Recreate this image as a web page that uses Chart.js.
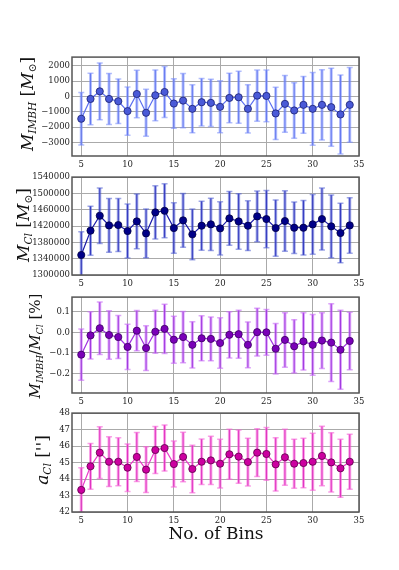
<!DOCTYPE html>
<html>
<head>
<meta charset="utf-8">
<script src="https://cdn.jsdelivr.net/npm/chart.js@4"></script>
<style>
  body { margin: 0; background: #fff; }
  #wrap { position: relative; width: 399px; height: 570px; }
  canvas { position: absolute; left: 0; }
  .ylab {
    position: absolute; white-space: nowrap; line-height: 1;
    transform: translate(-50%, -50%) rotate(-90deg);
    font-family: "DejaVu Serif", serif; color: #111;
  }
  .ylab i { font-style: italic; }
  .ylab sub { font-size: 62%; vertical-align: -0.35em; line-height: 0; }
  #xlab {
    position: absolute; left: 216px; top: 533px; transform: translate(-50%, -50%);
    font-family: "DejaVu Serif", serif; font-size: 17px; color: #111; white-space: nowrap;
  }
</style>
</head>
<body>
<div id="wrap">
  <canvas id="c1"></canvas>
  <canvas id="c2"></canvas>
  <canvas id="c3"></canvas>
  <canvas id="c4"></canvas>
  <div class="ylab" style="left:27px;top:104px;font-size:17px"><i>M</i><sub><i>IMBH</i></sub> [<i>M</i><sub>&#8857;</sub>]</div>
  <div class="ylab" style="left:23px;top:225px;font-size:17px"><i>M</i><sub><i>Cl</i></sub> [<i>M</i><sub>&#8857;</sub>]</div>
  <div class="ylab" style="left:35px;top:346px;font-size:15px"><i>M</i><sub><i>IMBH</i></sub>/<i>M</i><sub><i>Cl</i></sub> [%]</div>
  <div class="ylab" style="left:42px;top:460px;font-size:17px"><i>a</i><sub><i>Cl</i></sub> ['']</div>
  <div id="xlab">No. of Bins</div>
</div>
<script>
const bins = [5,6,7,8,9,10,11,12,13,14,15,16,17,18,19,20,21,22,23,24,25,26,27,28,29,30,31,32,33,34];
const xTicks = [5,10,15,20,25,30,35];

const imbhMass = [-1450,-155,340,-155,-306,-952,168,-1060,82,298,-457,-263,-802,-370,-413,-672,-90,-47,-802,60,39,-1103,-478,-909,-543,-802,-543,-694,-1168,-543];
const imbhErr  = [1720,1680,1860,1670,1460,1580,1550,1530,1660,1660,1620,1770,1570,1550,1540,1700,1620,1700,1580,1670,1690,1710,1860,1820,1860,2380,2300,2550,2580,2440];
const imbhTicks = [-3000,-2000,-1000,0,1000,2000];

const clMass = [1349000,1408600,1445300,1421600,1422400,1407800,1431400,1402000,1453500,1457500,1415100,1433900,1399600,1420800,1424100,1414300,1438800,1431400,1420800,1443700,1437100,1415100,1432300,1415900,1415900,1424100,1437100,1419200,1402900,1421600];
const clErr  = [57000,60000,68000,66000,65000,66000,67000,60000,65000,66000,62000,66000,62000,60000,64000,65000,66000,68000,61000,62000,70000,69000,74000,63000,67000,73000,76000,77000,73000,68000];
const clTicks = [1300000,1340000,1380000,1420000,1460000,1500000,1540000];

const ratio = [-0.109,-0.015,0.020,-0.013,-0.023,-0.071,0.008,-0.077,0.003,0.017,-0.036,-0.023,-0.061,-0.029,-0.032,-0.052,-0.012,-0.009,-0.061,0.001,0.000,-0.080,-0.037,-0.068,-0.044,-0.061,-0.040,-0.050,-0.085,-0.042];
const ratioErr = [0.125,0.115,0.128,0.118,0.105,0.110,0.098,0.109,0.105,0.120,0.115,0.125,0.113,0.110,0.107,0.123,0.113,0.117,0.112,0.117,0.112,0.123,0.133,0.130,0.140,0.148,0.136,0.190,0.193,0.140];
const ratioTicks = [-0.2,-0.1,0.0,0.1];

const radius = [43.34,44.77,45.60,45.05,45.05,44.69,45.34,44.57,45.76,45.88,44.91,45.34,44.61,45.05,45.13,44.93,45.50,45.36,45.03,45.60,45.52,44.89,45.32,44.93,44.97,45.05,45.40,45.01,44.65,45.05];
const radiusErr = [1.35,1.39,1.57,1.51,1.45,1.44,1.49,1.39,1.43,1.40,1.39,1.50,1.44,1.38,1.46,1.48,1.52,1.62,1.45,1.45,1.60,1.62,1.70,1.49,1.50,1.73,1.80,1.80,1.76,1.67];
const radiusTicks = [42,43,44,45,46,47,48];

// error bars + frame, drawn through the chart's own scales
const errPlugin = {
  id: 'errbars',
  beforeDatasetsDraw(chart) {
    const { ctx, chartArea: a, scales: { x, y } } = chart;
    const o = chart.options.plugins.errbars;
    ctx.save();
    ctx.beginPath();
    ctx.rect(a.left, a.top, a.right - a.left, a.bottom - a.top);
    ctx.clip();
    bins.forEach((b, i) => {
      const px = x.getPixelForValue(b);
      const y1 = y.getPixelForValue(o.vals[i] + o.errs[i]);
      const y2 = y.getPixelForValue(o.vals[i] - o.errs[i]);
      ctx.strokeStyle = o.light;
      ctx.lineWidth = 3;
      ctx.beginPath(); ctx.moveTo(px, y1); ctx.lineTo(px, y2); ctx.stroke();
      ctx.strokeStyle = o.dark;
      ctx.lineWidth = 1;
      ctx.beginPath(); ctx.moveTo(px, y1); ctx.lineTo(px, y2); ctx.stroke();
      ctx.strokeStyle = o.light;
      ctx.lineWidth = 1.5;
      ctx.beginPath();
      ctx.moveTo(px - 3, y1); ctx.lineTo(px + 3, y1);
      ctx.moveTo(px - 3, y2); ctx.lineTo(px + 3, y2);
      ctx.stroke();
    });
    ctx.restore();
  },
  afterDraw(chart) {
    const { ctx, chartArea: a } = chart;
    ctx.save();
    ctx.strokeStyle = '#555';
    ctx.lineWidth = 1.5;
    ctx.strokeRect(a.left, a.top, a.right - a.left, a.bottom - a.top);
    ctx.restore();
  }
};

const tickFont = { family: 'DejaVu Serif', size: 8.5 };

function makePanel(id, top, height, vals, errs, yTicks, yMin, yMax, fmt, col) {
  const c = document.getElementById(id);
  const padTop = 6, xAxisH = 16;
  c.width = 399;
  c.height = height + padTop + xAxisH + 2;
  c.style.top = (top - padTop) + 'px';
  new Chart(c, {
    type: 'line',
    data: {
      datasets: [{
        data: bins.map((b, i) => ({ x: b, y: vals[i] })),
        borderColor: col.line,
        borderWidth: 1.2,
        pointRadius: 3.6,
        pointBackgroundColor: col.fill,
        pointBorderColor: col.edge,
        pointBorderWidth: 0.8,
        tension: 0,
      }],
    },
    options: {
      responsive: false,
      animation: false,
      layout: { padding: { left: 22, right: 40, top: padTop, bottom: 2 } },
      plugins: {
        legend: { display: false },
        tooltip: { enabled: false },
        errbars: { vals: vals, errs: errs, light: col.light, dark: col.dark },
      },
      scales: {
        x: {
          type: 'linear', min: 4, max: 35,
          afterBuildTicks: s => { s.ticks = xTicks.map(v => ({ value: v })); },
          afterFit: s => { s.height = xAxisH; },
          grid: { color: '#aaa', borderDash: [1, 2], drawTicks: false },
          border: { display: false },
          ticks: { font: tickFont, color: '#222', padding: 4, maxRotation: 0 },
        },
        y: {
          type: 'linear', min: yMin, max: yMax,
          afterBuildTicks: s => { s.ticks = yTicks.map(v => ({ value: v })); },
          afterFit: s => { s.width = 50; },
          grid: { color: '#aaa', borderDash: [1, 2], drawTicks: false },
          border: { display: false },
          ticks: { font: tickFont, color: '#222', padding: 2, callback: fmt },
        },
      },
    },
    plugins: [errPlugin],
  });
}

const minus = v => String(v).replace('-', '\u2212');

makePanel('c1', 56, 100, imbhMass, imbhErr, imbhTicks, -3886, 2580, v => minus(v),
  { line: '#5b6ff0', fill: '#4a5ad8', edge: '#1a2070', light: 'rgba(120,140,250,0.55)', dark: '#6478f0' });
makePanel('c2', 176, 99, clMass, clErr, clTicks, 1300000, 1540000, v => String(v),
  { line: '#1a1aa8', fill: '#000088', edge: '#000040', light: 'rgba(80,95,210,0.55)', dark: '#3338c0' });
makePanel('c3', 296, 97, ratio, ratioErr, ratioTicks, -0.296, 0.172, v => minus(v.toFixed(1)),
  { line: '#a030e0', fill: '#7a00b8', edge: '#3a0060', light: 'rgba(200,110,245,0.6)', dark: '#a038e0' });
makePanel('c4', 412, 100, radius, radiusErr, radiusTicks, 42, 48, v => String(v),
  { line: '#e83cc8', fill: '#cc00a0', edge: '#5a0048', light: 'rgba(245,100,215,0.6)', dark: '#e030c0' });
</script>
</body>
</html>
